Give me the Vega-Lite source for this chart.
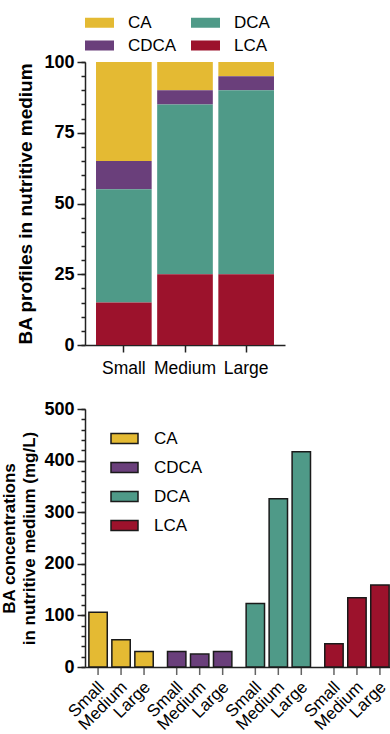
{
  "$schema": "https://vega.github.io/schema/vega-lite/v6.json",
  "padding": {"left": 0, "top": 8, "right": 0, "bottom": 0},
  "background": "white",
  "config": {
    "font": "Liberation Sans",
    "view": {"stroke": null},
    "axis": {"domainColor": "#222", "tickColor": "#222", "domainWidth": 1.5, "tickWidth": 1.5, "labelColor": "#000", "titleColor": "#000", "grid": false, "labelFont": "Liberation Sans", "titleFont": "Liberation Sans"},
    "legend": {"labelFont": "Liberation Sans", "labelColor": "#000"}
  },
  "datasets": {
    "profiles": [
      {"size": "Small", "acid": "CA", "percent": 35},
      {"size": "Small", "acid": "CDCA", "percent": 10},
      {"size": "Small", "acid": "DCA", "percent": 40},
      {"size": "Small", "acid": "LCA", "percent": 15},
      {"size": "Medium", "acid": "CA", "percent": 10},
      {"size": "Medium", "acid": "CDCA", "percent": 5},
      {"size": "Medium", "acid": "DCA", "percent": 60},
      {"size": "Medium", "acid": "LCA", "percent": 25},
      {"size": "Large", "acid": "CA", "percent": 5},
      {"size": "Large", "acid": "CDCA", "percent": 5},
      {"size": "Large", "acid": "DCA", "percent": 65},
      {"size": "Large", "acid": "LCA", "percent": 25}
    ],
    "conc": [
      {"acid": "CA", "size": "Small", "conc": 106},
      {"acid": "CA", "size": "Medium", "conc": 53},
      {"acid": "CA", "size": "Large", "conc": 30},
      {"acid": "CDCA", "size": "Small", "conc": 30},
      {"acid": "CDCA", "size": "Medium", "conc": 25},
      {"acid": "CDCA", "size": "Large", "conc": 30},
      {"acid": "DCA", "size": "Small", "conc": 123},
      {"acid": "DCA", "size": "Medium", "conc": 326},
      {"acid": "DCA", "size": "Large", "conc": 417},
      {"acid": "LCA", "size": "Small", "conc": 45},
      {"acid": "LCA", "size": "Medium", "conc": 134},
      {"acid": "LCA", "size": "Large", "conc": 159}
    ]
  },
  "spacing": 64,
  "bounds": "flush",
  "resolve": {"legend": {"color": "independent"}},
  "vconcat": [
    {
      "width": 200,
      "height": 283,
      "data": {"name": "profiles"},
      "encoding": {
        "x": {
          "field": "size", "type": "nominal", "sort": ["Small", "Medium", "Large"],
          "scale": {"paddingInner": 0.09, "paddingOuter": 0.18},
          "axis": {"title": null, "labelAngle": 0, "labelFontSize": 17.5, "tickSize": 7, "labelPadding": 7}
        }
      },
      "resolve": {"axis": {"y": "independent"}},
      "layer": [
        {
          "mark": {"type": "bar"},
          "encoding": {
            "y": {
              "field": "percent", "type": "quantitative", "stack": "zero",
              "scale": {"domain": [0, 100], "nice": false},
              "axis": {
                "orient": "left",
                "title": "BA profiles in nutritive medium", "titleFontSize": 19, "titleFontWeight": "bold", "titlePadding": 8,
                "values": [0, 25, 50, 75, 100], "tickSize": 8,
                "labelFontSize": 18, "labelFontWeight": "bold", "labelPadding": 3, "labelFlush": false
              }
            },
            "color": {
              "field": "acid", "type": "nominal",
              "scale": {"domain": ["CA", "CDCA", "DCA", "LCA"], "range": ["#E4BA33", "#6A3F7B", "#4F9A88", "#9C122C"]},
              "legend": {
                "orient": "none", "legendX": 0, "legendY": -54, "direction": "horizontal", "columns": 2,
                "values": ["CA", "DCA", "CDCA", "LCA"], "title": null,
                "symbolType": "M-1,-0.345H1V0.345H-1Z", "symbolSize": 841, "symbolStrokeWidth": 0, "symbolOpacity": 1,
                "labelFontSize": 17, "labelOffset": 14, "columnPadding": 14, "rowPadding": -7
              }
            },
            "order": {"field": "acid", "sort": "descending"}
          }
        },
        {
          "mark": {"type": "tick", "opacity": 0},
          "encoding": {
            "y": {
              "datum": 0,
              "axis": {
                "orient": "left", "title": null, "labels": false, "domain": false, "tickSize": 4,
                "values": [0, 5, 10, 15, 20, 25, 30, 35, 40, 45, 50, 55, 60, 65, 70, 75, 80, 85, 90, 95, 100]
              }
            }
          }
        }
      ]
    },
    {
      "width": 308,
      "height": 258,
      "data": {"name": "conc"},
      "encoding": {
        "x": {
          "field": "acid", "type": "nominal", "sort": ["CA", "CDCA", "DCA", "LCA"],
          "scale": {"paddingInner": 0.123, "paddingOuter": 0.02},
          "axis": {"title": null, "labels": false, "ticks": false}
        },
        "xOffset": {
          "field": "size", "type": "nominal", "sort": ["Small", "Medium", "Large"],
          "scale": {"paddingInner": 0.2, "paddingOuter": 0.1}
        }
      },
      "resolve": {"axis": {"y": "independent"}},
      "layer": [
        {
          "mark": {"type": "bar", "stroke": "#1a1a1a", "strokeWidth": 1.5},
          "encoding": {
            "y": {
              "field": "conc", "type": "quantitative",
              "scale": {"domain": [0, 500], "nice": false},
              "axis": {
                "orient": "left",
                "title": ["BA concentrations", "in nutritive medium (mg/L)"], "titleFontSize": 17, "titleFontWeight": "bold", "titlePadding": 5, "titleLineHeight": 20,
                "values": [0, 100, 200, 300, 400, 500], "tickSize": 8,
                "labelFontSize": 18, "labelFontWeight": "bold", "labelPadding": 3, "labelFlush": false
              }
            },
            "color": {
              "field": "acid", "type": "nominal",
              "scale": {"domain": ["CA", "CDCA", "DCA", "LCA"], "range": ["#E4BA33", "#6A3F7B", "#4F9A88", "#9C122C"]},
              "legend": {
                "orient": "none", "legendX": 25, "legendY": 15, "direction": "vertical", "title": null,
                "symbolType": "M-1,-0.37H1V0.37H-1Z", "symbolSize": 729, "symbolStrokeColor": "#1a1a1a", "symbolStrokeWidth": 1.5, "symbolOpacity": 1,
                "labelFontSize": 17, "labelOffset": 15, "rowPadding": 6
              }
            }
          }
        },
        {
          "mark": {"type": "tick", "opacity": 0},
          "encoding": {
            "y": {
              "datum": 0,
              "axis": {
                "orient": "left", "title": null, "labels": false, "domain": false, "tickSize": 4,
                "values": [0, 20, 40, 60, 80, 100, 120, 140, 160, 180, 200, 220, 240, 260, 280, 300, 320, 340, 360, 380, 400, 420, 440, 460, 480, 500]
              }
            }
          }
        },
        {
          "mark": {"type": "text", "angle": 315, "align": "right", "baseline": "middle", "dx": -10, "dy": 15, "fontSize": 17, "color": "#000"},
          "encoding": {"y": {"datum": 0, "axis": null}, "text": {"field": "size"}}
        },
        {
          "mark": {"type": "tick", "orient": "vertical", "size": 8, "thickness": 1.5, "color": "#222", "yOffset": 4},
          "encoding": {"y": {"datum": 0, "axis": null}}
        }
      ]
    }
  ]
}
